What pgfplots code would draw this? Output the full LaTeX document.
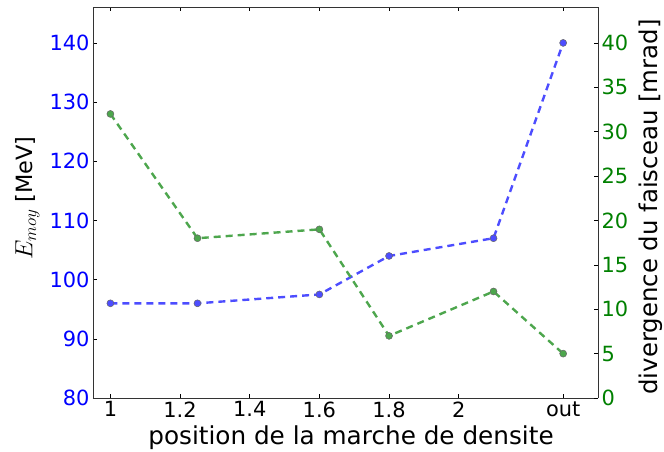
\documentclass[border=0pt]{standalone}
\usepackage{fontspec}
\setmainfont{DejaVu Sans}
\usepackage{pgfplots}
\pgfplotsset{compat=1.18}
\definecolor{lblue}{HTML}{4D4DFF}
\definecolor{lgreen}{HTML}{4DA64D}
\definecolor{tgreen}{HTML}{008000}
\pgfplotsset{
  common/.style={
    at={(0,0)}, anchor=south west,
    scale only axis, width=505bp, height=391bp,
    xmin=0.95, xmax=2.4,
    tick align=inside, major tick length=4bp,
    tick style={black, line width=0.6pt},
    axis line style={line width=0.8pt, black!80},
    /pgf/number format/assume math mode=true,
    every tick label/.append style={font=\fontsize{21}{25}\selectfont},
  }
}
\begin{document}
\begin{tikzpicture}
\path[use as bounding box] (-93bp,-54bp) rectangle (571bp,398bp);
\begin{axis}[common,
  ymin=80, ymax=146.07,
  axis y line*=left,
  xtick={1,1.2,1.4,1.6,1.8,2,2.3},
  xticklabels={1,1.2,1.4,1.6,1.8,2,out},
  ytick={80,90,...,140},
  yticklabel style={text=blue},
  ylabel={{\fontsize{27}{30}\selectfont$E_{moy}$} [MeV]},
  ylabel style={font=\fontsize{22.5}{26}\selectfont, at={(-65.5bp,200bp)}, anchor=center},
  xlabel={position de la marche de densite},
  xlabel style={font=\fontsize{24.8}{28}\selectfont, at={(258bp,-40bp)}, anchor=center},
]
\addplot[lblue, line width=2.4pt, dash pattern=on 7bp off 5bp,
  mark=*, mark size=3.5bp, mark options={solid, fill=lblue, draw=black!60, line width=0.5pt}]
  coordinates {(1,96) (1.25,96) (1.6,97.5) (1.8,104) (2.1,107) (2.3,140)};
\end{axis}
\begin{axis}[common,
  ymin=0, ymax=44.05,
  axis y line*=right,
  axis x line=none,
  ytick={0,5,...,40},
  yticklabel style={text=tgreen},
  ylabel={divergence du faisceau [mrad]},
  ylabel style={font=\fontsize{24.5}{28}\selectfont, at={(558bp,191bp)}, anchor=center, rotate=0},
]
\addplot[lgreen, line width=2.4pt, dash pattern=on 7bp off 5bp,
  mark=*, mark size=3.5bp, mark options={solid, fill=lgreen, draw=black!60, line width=0.5pt}]
  coordinates {(1,32) (1.25,18) (1.6,19) (1.8,7) (2.1,12) (2.3,5)};
\end{axis}
\end{tikzpicture}
\end{document}
